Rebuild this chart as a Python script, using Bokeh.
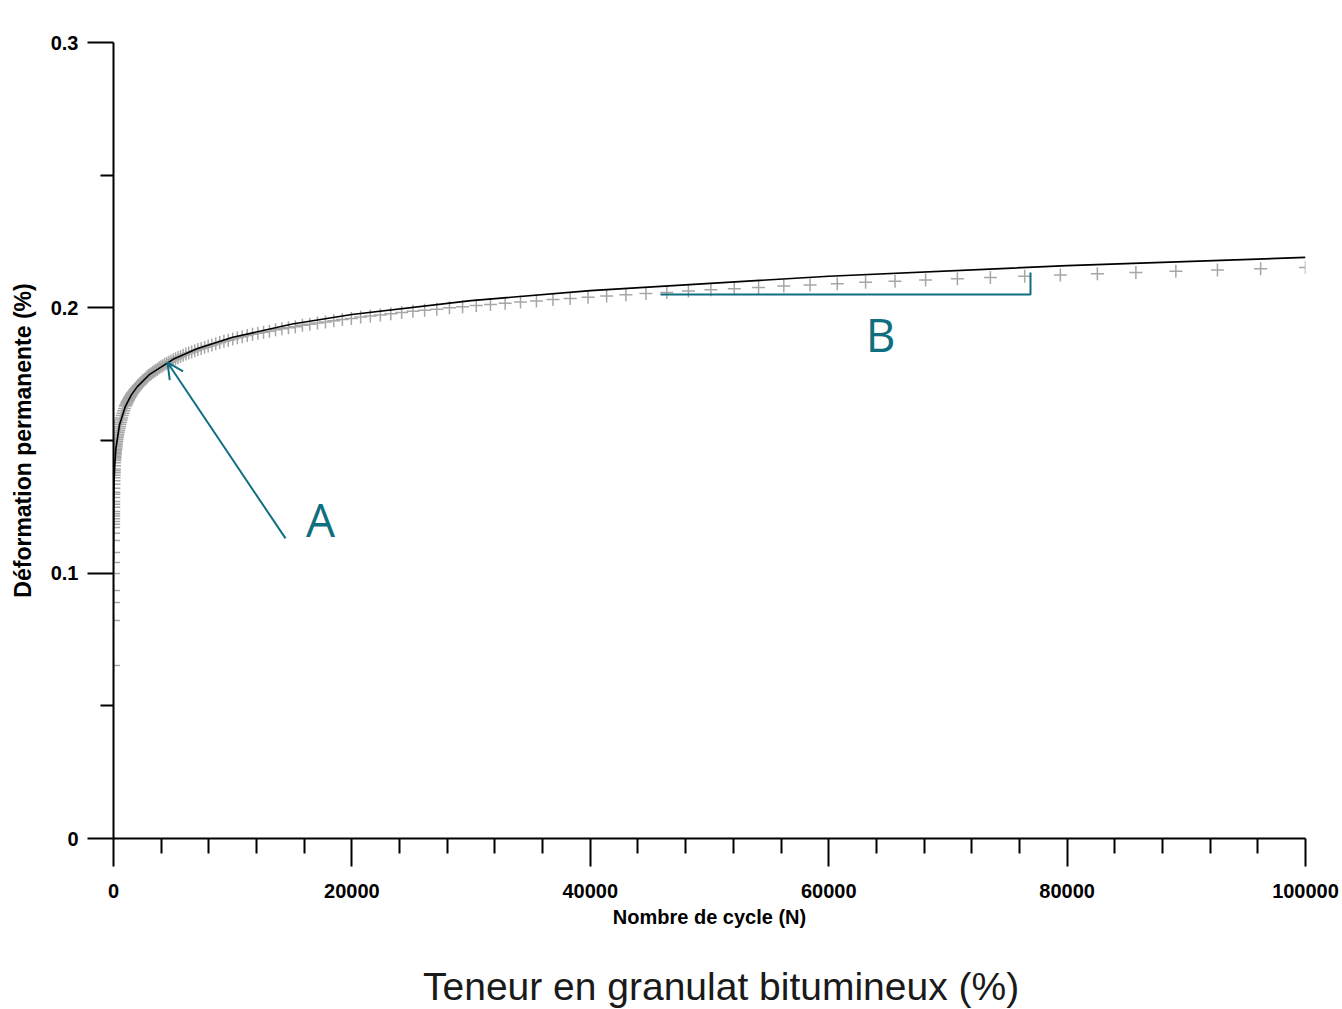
from bokeh.plotting import figure
from bokeh.models import (Range1d, LinearAxis, FixedTicker, Label, Arrow, OpenHead,
                          ColumnDataSource, NumeralTickFormatter, Div)
from bokeh.layouts import column
from bokeh.embed import file_html
from bokeh.resources import INLINE

# ---------------- data ----------------
cycles_measured = [
    1, 2, 3, 4, 5, 6, 7, 8, 9,
    10, 11, 12, 13, 14, 15, 16, 18, 20, 22, 25, 28, 30, 35, 40, 45, 50, 55, 60, 65, 70, 80, 90,
    100, 108, 117, 126, 136, 147, 158, 171, 185, 200, 215, 233, 251, 271, 293, 316, 341, 369,
    398, 430, 464, 501, 541, 584, 631, 681, 736, 794, 858, 926,
    1000, 1039, 1080, 1122, 1166, 1211, 1259, 1308, 1359, 1413, 1468, 1525, 1585, 1647, 1711,
    1778, 1848, 1920, 1995, 2073, 2154, 2239, 2326, 2417, 2512, 2610, 2712, 2818, 2929, 3043,
    3162, 3286, 3415, 3548, 3687, 3831, 3981, 4137, 4299, 4467, 4642, 4823, 5012, 5208, 5412,
    5623, 5843, 6072, 6310, 6556, 6813, 7079, 7356, 7644, 7943, 8254, 8577, 8913, 9261, 9624,
    10000, 10391, 10798, 11220, 11659, 12115, 12589, 13082, 13594, 14125, 14678, 15252, 15849,
    16469, 17113, 17783, 18478, 19201, 19953, 20733, 21544, 22387, 23263, 24173, 25119, 26102,
    27123, 28184, 29286, 30433, 31623, 32859, 34145, 35481, 36869, 38312, 39811, 41369, 42987,
    44668, 46416, 48232, 50119, 52080, 54117, 56234, 58434, 60720, 63096, 65564, 68129, 70795,
    73564, 76443, 79433, 82540, 85770, 89125, 92614, 96236, 100000,
]
deformation_measured = [
    0.0652, 0.0822, 0.0889, 0.0935, 0.0999, 0.1040, 0.1078, 0.1123, 0.1150,
    0.1172, 0.1184, 0.1195, 0.1205, 0.1215, 0.1224, 0.1232, 0.1248, 0.1260, 0.1270, 0.1285,
    0.1297, 0.1305, 0.1320, 0.1335, 0.1348, 0.1360, 0.1369, 0.1378, 0.1386, 0.1393, 0.1405, 0.1416,
    0.1425, 0.1430, 0.1435, 0.1440, 0.1445, 0.1450, 0.1456, 0.1461, 0.1467, 0.1472, 0.1478,
    0.1484, 0.1491, 0.1497, 0.1504, 0.1510, 0.1517, 0.1524, 0.1531, 0.1538, 0.1545, 0.1553,
    0.1561, 0.1569, 0.1577, 0.1585, 0.1594, 0.1603, 0.1612, 0.1621,
    0.1630, 0.1634, 0.1638, 0.1642, 0.1646, 0.1650, 0.1654, 0.1658, 0.1662, 0.1666, 0.1670,
    0.1674, 0.1678, 0.1682, 0.1686, 0.1690, 0.1694, 0.1698, 0.1702, 0.1706, 0.1710, 0.1714,
    0.1718, 0.1723, 0.1727, 0.1731, 0.1735, 0.1740, 0.1744, 0.1748, 0.1752, 0.1756, 0.1761,
    0.1765, 0.1769, 0.1774, 0.1778, 0.1782, 0.1787, 0.1791, 0.1795, 0.1799, 0.1804, 0.1808,
    0.1813, 0.1817, 0.1821, 0.1826, 0.1830, 0.1834, 0.1838, 0.1843, 0.1847, 0.1851, 0.1856,
    0.1860, 0.1865, 0.1869, 0.1874, 0.1878,
    0.1883, 0.1887, 0.1891, 0.1896, 0.1900, 0.1904, 0.1908, 0.1912, 0.1917, 0.1921, 0.1925,
    0.1929, 0.1934, 0.1938, 0.1943, 0.1947, 0.1951, 0.1956, 0.1960, 0.1965, 0.1969, 0.1973,
    0.1978, 0.1982, 0.1987, 0.1991, 0.1995, 0.2000, 0.2004, 0.2009, 0.2013, 0.2017, 0.2022,
    0.2026, 0.2031, 0.2035, 0.2040, 0.2045, 0.2049, 0.2054, 0.2058, 0.2063, 0.2068, 0.2072,
    0.2077, 0.2082, 0.2086, 0.2091, 0.2096, 0.2100, 0.2105, 0.2110, 0.2114, 0.2119, 0.2124,
    0.2128, 0.2133, 0.2138, 0.2143, 0.2147, 0.2152,
]

cycles_model = [1, 2, 5, 10, 20, 50, 100, 200, 500, 1000, 1500, 2000, 3000, 5000, 7000,
                10000, 15000, 20000, 30000, 40000, 60000, 80000, 100000]
deformation_model = [0.1046, 0.1092, 0.1160, 0.1212, 0.1268, 0.1343, 0.1404, 0.1469, 0.1558,
                     0.1629, 0.1672, 0.1703, 0.1748, 0.1806, 0.1846, 0.1889, 0.1939, 0.1975,
                     0.2027, 0.2065, 0.2119, 0.2159, 0.2190]

y_major_ticks = [0, 0.1, 0.2, 0.3]
y_minor_ticks = [0.05, 0.15, 0.25]
x_major_ticks = [0, 20000, 40000, 60000, 80000, 100000]
x_minor_ticks = [4000, 8000, 12000, 16000, 24000, 28000, 32000, 36000, 44000, 48000, 52000,
                 56000, 64000, 68000, 72000, 76000, 84000, 88000, 92000, 96000]

x_title = "Nombre de cycle (N)"
y_title = "Déformation permanente (%)"
caption = "Teneur en granulat bitumineux (%)"

TEAL = "#0f6e80"
AXIS_FONT = "Liberation Sans"

# ---------------- figure ----------------
p = figure(width=1342, height=955, output_backend="svg", toolbar_location=None,
           x_range=Range1d(0, 100000), y_range=Range1d(0, 0.3),
           x_axis_type=None, y_axis_type=None,
           min_border_left=113, min_border_right=37, min_border_top=42, min_border_bottom=117)
p.outline_line_color = None
p.xgrid.visible = False
p.ygrid.visible = False
p.background_fill_color = "white"
p.border_fill_color = "white"


def style_axis(ax, tick_out, minor_out, standoff):
    ax.axis_line_width = 2
    ax.axis_line_color = "black"
    ax.major_tick_line_width = 2
    ax.minor_tick_line_width = 2
    ax.major_tick_in = 0
    ax.major_tick_out = tick_out
    ax.minor_tick_in = 0
    ax.minor_tick_out = minor_out
    ax.major_label_standoff = standoff
    ax.major_label_text_font = AXIS_FONT
    ax.major_label_text_font_style = "bold"
    ax.major_label_text_font_size = "20px"
    ax.major_label_text_color = "black"
    ax.axis_label_text_font = AXIS_FONT
    ax.axis_label_text_font_style = "bold"
    ax.axis_label_text_color = "black"


yax = LinearAxis(ticker=FixedTicker(ticks=y_major_ticks, minor_ticks=y_minor_ticks),
                 formatter=NumeralTickFormatter(format="0.[0]"), axis_label=y_title)
style_axis(yax, 26, 13, 9)
yax.axis_label_text_font_size = "23px"
yax.axis_label_standoff = 12
p.add_layout(yax, "left")

xax = LinearAxis(ticker=FixedTicker(ticks=x_major_ticks, minor_ticks=x_minor_ticks),
                 formatter=NumeralTickFormatter(format="0"), axis_label=x_title)
style_axis(xax, 28, 15, 17)
xax.axis_label_text_font_size = "20px"
xax.axis_label_standoff = 5
p.add_layout(xax, "below")

# ---------------- data ----------------
meas = ColumnDataSource(dict(x=cycles_measured, y=deformation_measured))
model = ColumnDataSource(dict(x=cycles_model, y=deformation_model))

p.scatter("x", "y", source=meas, marker="cross", size=13, line_color="#a6a6a6",
          line_width=1.5)
p.line("x", "y", source=model, line_color="black", line_width=1.6)

# ---------------- annotations ----------------
p.add_layout(Arrow(x_start=14430, y_start=0.1131, x_end=4530, y_end=0.1794,
                   line_color=TEAL, line_width=2,
                   end=OpenHead(size=16, line_color=TEAL, line_width=2)))
p.add_layout(Label(x=17366, y=0.1204, text="A", text_align="center",
                   text_baseline="middle", text_font="Open Sans",
                   text_font_size="46px", text_color=TEAL))
p.line([45889, 76929, 76929], [0.2050, 0.2050, 0.2133], line_color=TEAL, line_width=2)
p.add_layout(Label(x=64346, y=0.1901, text="B", text_align="center",
                   text_baseline="middle", text_font="Open Sans",
                   text_font_size="46px", text_color=TEAL))

# ---------------- caption under the chart ----------------
cap = Div(text=('<div style="font-family: \'Liberation Sans\', Arial, sans-serif; '
                'font-size: 39px; line-height: 46px; color: #1a1a1a; white-space: nowrap; '
                'padding-left: 423px; padding-top: 9px;">' + caption + '</div>'),
          width=1342, height=54, margin=(0, 0, 0, 0))

layout = column(p, cap, spacing=0)

open("out.html", "w").write(file_html(layout, INLINE))
